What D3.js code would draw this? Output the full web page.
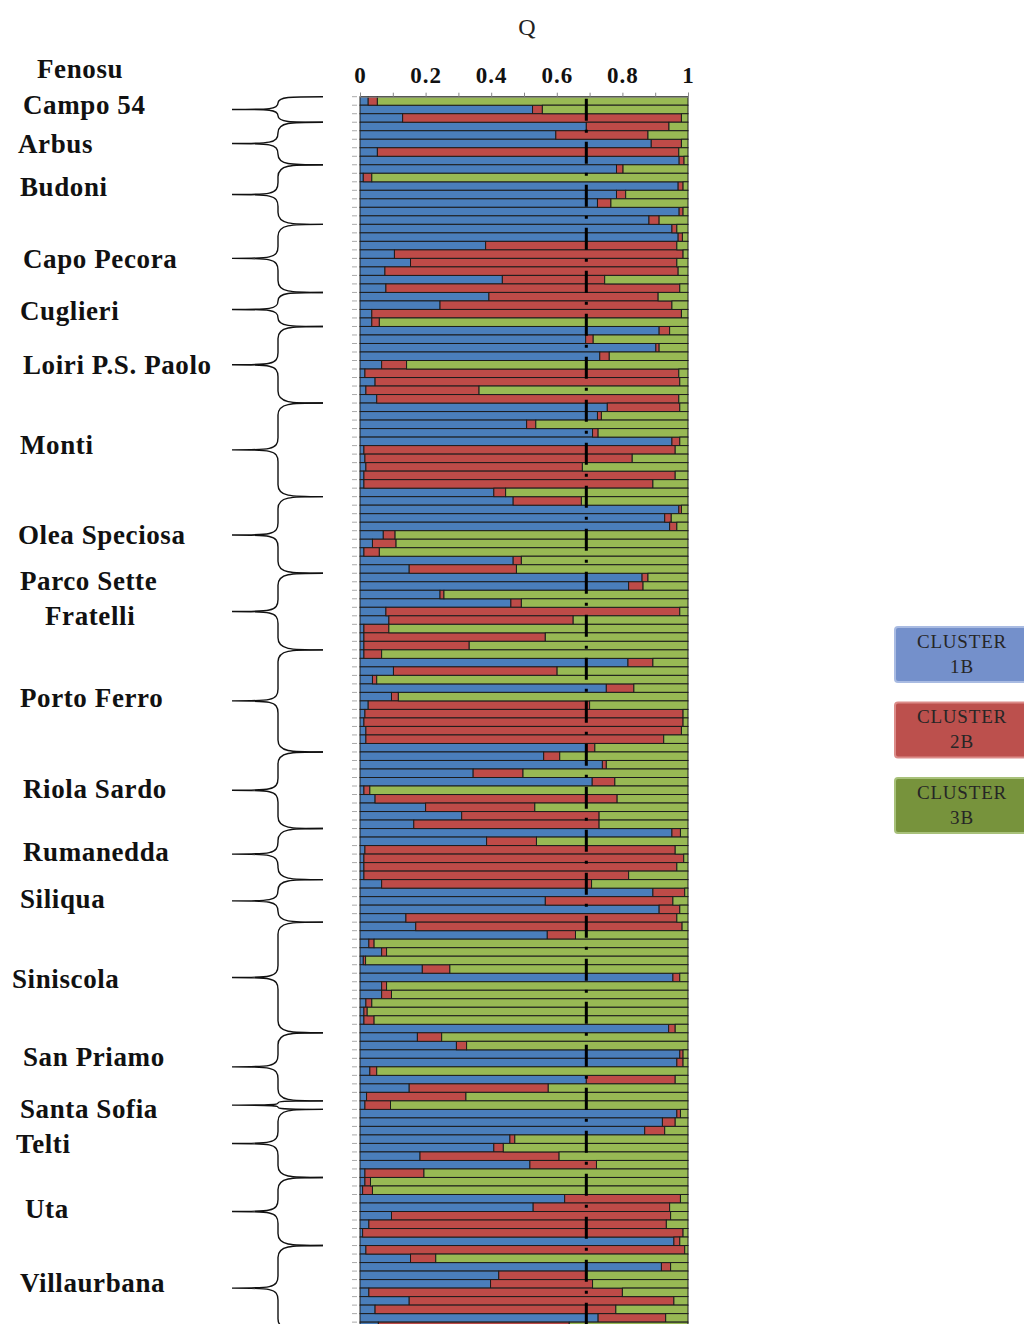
<!DOCTYPE html>
<html>
<head>
<meta charset="utf-8">
<script src="https://cdn.jsdelivr.net/npm/d3@7"></script>
<style>
  body { margin: 0; background: #fff; }
  svg { display: block; }
</style>
</head>
<body>
<svg width="1024" height="1324"></svg>
<script>
// Q per individual (top to bottom)
const cluster1 = [.025,.526,.130,.690,.597,.888,.053,.973,.782,.010,
  .970,.782,.724,.973,.881,.951,.970,.383,.105,.154,
  .076,.434,.079,.393,.244,.036,.036,.912,.688,.902,
  .731,.066,.015,.046,.018,.051,.754,.724,.508,.709,
  .951,.012,.015,.018,.012,.012,.408,.467,.972,.929,
  .944,.071,.038,.012,.467,.150,.860,.819,.244,.460,
  .079,.088,.012,.012,.012,.012,.817,.102,.038,.751,
  .096,.025,.015,.012,.018,.018,.690,.560,.739,.345,
  .708,.012,.046,.200,.310,.164,.951,.386,.015,.012,
  .012,.012,.066,.893,.565,.912,.140,.170,.571,.027,
  .066,.010,.190,.954,.066,.066,.018,.012,.012,.941,
  .175,.294,.975,.966,.030,.690,.150,.020,.015,.966,
  .922,.868,.457,.408,.183,.518,.015,.015,.008,.624,
  .528,.096,.027,.008,.957,.018,.154,.919,.423,.398,
  .027,.150,.046,.726,.056]
const cluster2 = [.028,.030,.850,.252,.281,.092,.919,.015,.020,.026,
  .015,.028,.041,.012,.031,.015,.013,.583,.880,.812,
  .894,.312,.896,.516,.707,.944,.023,.032,.023,.010,
  .029,.076,.957,.929,.345,.921,.221,.012,.028,.017,
  .024,.949,.815,.660,.949,.881,.036,.208,.008,.020,
  .022,.036,.072,.047,.025,.327,.018,.044,.012,.032,
  .896,.562,.076,.553,.321,.054,.076,.499,.013,.084,
  .021,.675,.970,.973,.962,.908,.026,.049,.012,.152,
  .069,.018,.738,.333,.419,.565,.026,.152,.946,.975,
  .954,.807,.640,.097,.389,.063,.826,.812,.086,.016,
  .015,.007,.084,.021,.015,.030,.018,.010,.031,.020,
  .074,.031,.010,.019,.021,.271,.424,.303,.078,.011,
  .039,.061,.015,.029,.424,.203,.180,.017,.030,.353,
  .416,.851,.907,.977,.018,.972,.077,.028,.267,.311,
  .773,.807,.734,.206,.582]
const cluster3 = [.947,.444,.020,.058,.122,.020,.028,.012,.198,.964,
  .015,.190,.235,.015,.088,.034,.017,.034,.015,.034,
  .030,.254,.025,.091,.049,.020,.941,.056,.289,.088,
  .240,.858,.028,.025,.637,.028,.025,.264,.464,.274,
  .025,.039,.170,.322,.039,.107,.556,.325,.020,.051,
  .034,.893,.890,.941,.508,.523,.122,.137,.744,.508,
  .025,.350,.912,.435,.667,.934,.107,.399,.949,.165,
  .883,.300,.015,.015,.020,.074,.284,.391,.249,.503,
  .223,.970,.216,.467,.271,.271,.023,.462,.039,.013,
  .034,.181,.294,.010,.046,.025,.034,.018,.343,.957,
  .919,.983,.726,.025,.919,.904,.964,.978,.957,.039,
  .751,.675,.015,.015,.949,.039,.426,.677,.907,.023,
  .039,.071,.528,.563,.393,.279,.805,.968,.962,.023,
  .056,.053,.066,.015,.025,.010,.769,.053,.310,.291,
  .200,.043,.220,.068,.362]

const populations = ["Fenosu", "Campo 54", "Arbus", "Budoni", "Capo Pecora", "Cuglieri",
  "Loiri P.S. Paolo", "Monti", "Olea Speciosa", "Parco Sette\nFratelli", "Porto Ferro",
  "Riola Sardo", "Rumanedda", "Siliqua", "Siniscola", "San Priamo", "Santa Sofia",
  "Telti", "Uta", "Villaurbana"]
const popSizes = [0, 3, 5, 7, 8, 4, 9, 11, 9, 9, 12, 9, 6, 5, 13, 8, 1, 8, 8, 10]

const xTicks = d3.range(11).map(i => i / 10)
const threshold = 0.69
const clusterNames = ["CLUSTER\n1B", "CLUSTER\n2B", "CLUSTER\n3B"]

const colors = ["#4a7ebb", "#be4b48", "#98b954"]
const legendFill = ["#7490cb", "#bc504d", "#77933c"]
const legendEdge = ["#a9bbe2", "#dc8c89", "#a8c17a"]

// label nudges [x, dy from brace tip]
const labelPos = {
  "Fenosu": [37, 0], "Campo 54": [23, -5], "Arbus": [18, 0], "Budoni": [20, -8],
  "Capo Pecora": [23, 0], "Cuglieri": [20, 1], "Loiri P.S. Paolo": [23, 0],
  "Monti": [20, -5], "Olea Speciosa": [18, 0], "Parco Sette\nFratelli": [20, 0],
  "Porto Ferro": [20, -3], "Riola Sardo": [23, -2], "Rumanedda": [23, -3],
  "Siliqua": [20, -2], "Siniscola": [12, 1], "San Priamo": [23, -10],
  "Santa Sofia": [20, 3], "Telti": [16, 0], "Uta": [25, -3], "Villaurbana": [20, -6]
}

const svg = d3.select("svg")
const top0 = 96.7, pitch = 8.51
const n = cluster1.length

const x = d3.scaleLinear().domain([0, 1]).range([360, 688])
const y = d3.scaleBand()
  .domain(d3.range(n))
  .range([top0, top0 + n * pitch])
  .padding(0)

const rows = cluster1.map((v, i) => ({i: i, c1: v, c2: cluster2[i], c3: cluster3[i]}))
const stack = d3.stack().keys(["c1", "c2", "c3"])
const series = stack(rows)

// bars
svg.append("g")
  .selectAll("g")
  .data(series)
  .join("g")
  .attr("fill", (d, k) => colors[k])
  .selectAll("rect")
  .data(d => d)
  .join("rect")
  .attr("x", d => x(d[0]))
  .attr("width", d => Math.max(0, x(d[1]) - x(d[0])))
  .attr("y", d => y(d.data.i))
  .attr("height", y.bandwidth())
  .attr("stroke", "#1c1c1c")
  .attr("stroke-width", 1)

// left category ticks
svg.append("g")
  .selectAll("line")
  .data(d3.range(n + 1))
  .join("line")
  .attr("x1", 352).attr("x2", 357)
  .attr("y1", i => top0 + i * pitch).attr("y2", i => top0 + i * pitch)
  .attr("stroke", "#aaa")

// top axis
const axis = d3.axisTop(x)
  .tickValues(xTicks)
  .tickSize(4)
  .tickPadding(10)
  .tickFormat(d => Math.round(d * 10) % 2 === 0 ? String(d) : "")

const ax = svg.append("g")
  .attr("transform", `translate(0,${top0})`)
  .call(axis)
ax.select(".domain").attr("stroke", "#888")
ax.selectAll(".tick line").attr("stroke", "#888")
ax.selectAll(".tick text")
  .attr("fill", "#111")
  .style("font", "bold 23px 'Liberation Serif', 'Times New Roman', serif")
  .style("letter-spacing", "1px")

svg.append("text")
  .attr("x", 527).attr("y", 35)
  .attr("text-anchor", "middle")
  .style("font", "24px 'Liberation Serif', serif")
  .attr("fill", "#222")
  .text("Q")

// threshold line
svg.append("line")
  .attr("x1", x(threshold)).attr("x2", x(threshold))
  .attr("y1", top0 + 2).attr("y2", 1324)
  .attr("stroke", "#000")
  .attr("stroke-width", 3)
  .attr("stroke-dasharray", "22,9,3,9")

// braces and population labels
const starts = []
popSizes.reduce((acc, s) => { starts.push(acc); return acc + s }, 0)

function bracePath(y0, y1) {
  const xe = 323, xs = 278, xt = 232
  const ym = (y0 + y1) / 2
  const r = Math.min(12, (y1 - y0) / 4)
  return `M${xe},${y0} C${xs + 12},${y0} ${xs},${y0} ${xs},${y0 + r}` +
    ` L${xs},${ym - r} C${xs},${ym} ${xs - 8},${ym} ${xt},${ym}` +
    ` M${xt},${ym} C${xs - 8},${ym} ${xs},${ym} ${xs},${ym + r}` +
    ` L${xs},${y1 - r} C${xs},${y1} ${xs + 12},${y1} ${xe},${y1}`
}

const labelG = svg.append("g")
  .style("font", "bold 27px 'Liberation Serif', 'Times New Roman', serif")
  .style("letter-spacing", "0.6px")
  .attr("fill", "#111")

populations.forEach((name, k) => {
  const s = starts[k], size = popSizes[k]
  const pos = labelPos[name] || [20, 0]
  let tip
  if (size > 0) {
    const y0 = top0 + s * pitch, y1 = top0 + (s + size) * pitch
    tip = (y0 + y1) / 2
    svg.append("path")
      .attr("d", bracePath(y0, y1))
      .attr("fill", "none")
      .attr("stroke", "#111")
      .attr("stroke-width", 1.4)
  } else {
    tip = top0 - 28
  }
  const lines = name.split("\n")
  if (lines.length === 1) {
    labelG.append("text")
      .attr("x", pos[0]).attr("y", tip + pos[1])
      .attr("dy", "0.35em")
      .text(name)
  } else {
    labelG.append("text")
      .attr("x", pos[0]).attr("y", tip - 31)
      .attr("dy", "0.35em").text(lines[0])
    labelG.append("text")
      .attr("x", 45).attr("y", tip + 4)
      .attr("dy", "0.35em").text(lines[1])
  }
})

// legend
const leg = svg.append("g")
  .selectAll("g")
  .data(clusterNames)
  .join("g")
  .attr("transform", (d, k) => `translate(895,${627 + k * 75.5})`)

leg.append("rect")
  .attr("width", 140).attr("height", 55)
  .attr("rx", 3)
  .attr("fill", (d, k) => legendFill[k])
  .attr("stroke", (d, k) => legendEdge[k])
  .attr("stroke-width", 2)

leg.each(function (d) {
  const parts = d.split("\n")
  d3.select(this).selectAll("text")
    .data(parts)
    .join("text")
    .attr("x", 67).attr("y", (p, j) => 14 + j * 25)
    .attr("text-anchor", "middle")
    .attr("dy", "0.35em")
    .style("font", "19px 'Liberation Serif', serif")
    .style("letter-spacing", "0.8px")
    .attr("fill", "#262626")
    .text(p => p)
})
</script>
</body>
</html>
